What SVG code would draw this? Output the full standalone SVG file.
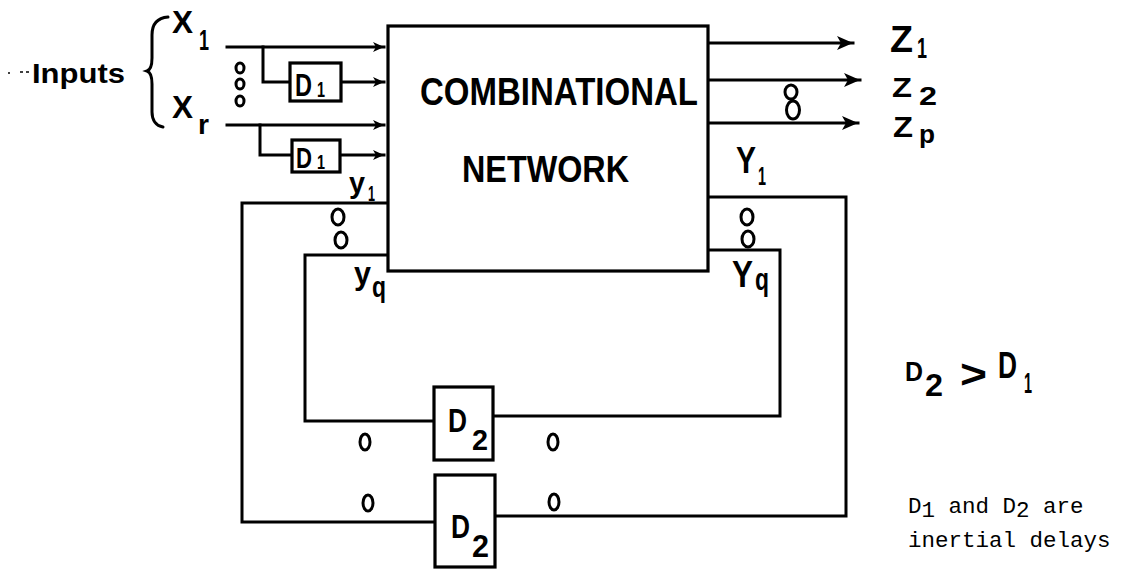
<svg xmlns="http://www.w3.org/2000/svg" width="1123" height="569" viewBox="0 0 1123 569">
<style>
.ln{fill:none;stroke:#000;stroke-width:3;stroke-linejoin:miter;stroke-linecap:square}
.bx{fill:#fff;stroke:#000;stroke-width:3.2}
.el{fill:none;stroke:#000;stroke-width:3}
.t{font-family:"Liberation Sans",Arial,sans-serif;font-weight:bold;fill:#000}
.tw{font-family:"Liberation Mono","Courier New",monospace;font-size:22.5px;fill:#000}
</style>
<defs>
<marker id="aBig" markerUnits="userSpaceOnUse" markerWidth="18" markerHeight="14" refX="16" refY="7" orient="auto">
<path d="M0,0 L16,7 L0,14 L4,7 z" fill="#000"/>
</marker>
<marker id="aSm" markerUnits="userSpaceOnUse" markerWidth="12" markerHeight="10" refX="11" refY="5" orient="auto">
<path d="M0,0 L11,5 L0,10 L3,5 z" fill="#000"/>
</marker>
</defs>
<rect width="1123" height="569" fill="#fff"/>

<g id="connectors">
<path class="ln" d="M227,47 L384,47" marker-end="url(#aSm)"/>
<path class="ln" d="M263,47 L263,82 L290,82"/>
<path class="ln" d="M341,82 L384,82" marker-end="url(#aSm)"/>
<path class="ln" d="M227,125 L384,125" marker-end="url(#aSm)"/>
<path class="ln" d="M260,125 L260,155 L292,155"/>
<path class="ln" d="M340,155 L384,155" marker-end="url(#aSm)"/>
<path class="ln" d="M708,43 L853,43" marker-end="url(#aBig)"/>
<path class="ln" d="M708,80 L860,80" marker-end="url(#aBig)"/>
<path class="ln" d="M708,123 L858,123" marker-end="url(#aBig)"/>
<path class="ln" d="M388,203 L242,203 L242,522 L436,522"/>
<path class="ln" d="M388,255 L305,255 L305,421 L434,421"/>
<path class="ln" d="M708,197 L846,197 L846,516 L495,516"/>
<path class="ln" d="M708,250 L780,250 L780,416 L493,416"/>
<path d="M20,72 L32,72" stroke="#000" stroke-width="1.5" stroke-dasharray="3 3"/>
<circle cx="9" cy="73" r="1" fill="#000"/>
</g>

<g id="inputs-label">
<text class="t" x="32" y="83" font-size="28" textLength="93" lengthAdjust="spacingAndGlyphs">Inputs</text>
<path class="ln" style="stroke-linecap:round" d="M168,17 C156,18 152,25 152,35 L152,58 C152,66 150,70 147,71 C150,72 152,76 152,84 L152,112 C152,120 156,126 163,127"/>
<text class="t" x="172" y="33" font-size="32" textLength="21" lengthAdjust="spacingAndGlyphs">X</text>
<text class="t" x="199" y="50" font-size="30" textLength="10" lengthAdjust="spacingAndGlyphs">1</text>
<text class="t" x="172" y="118" font-size="32" textLength="21" lengthAdjust="spacingAndGlyphs">X</text>
<text class="t" x="198" y="134" font-size="28" textLength="11" lengthAdjust="spacingAndGlyphs">r</text>
<ellipse class="el" cx="240" cy="68" rx="4" ry="5"/>
<ellipse class="el" cx="240" cy="84" rx="4" ry="5"/>
<ellipse class="el" cx="240" cy="101" rx="4" ry="5"/>
</g>

<g id="d1-top">
<rect class="bx" x="290" y="63" width="51" height="38"/>
<text class="t" x="295" y="96" font-size="32" textLength="17" lengthAdjust="spacingAndGlyphs">D</text>
<text class="t" x="317" y="97" font-size="22" textLength="8" lengthAdjust="spacingAndGlyphs">1</text>
</g>

<g id="d1-bottom">
<rect class="bx" x="292" y="140" width="48" height="32"/>
<text class="t" x="296" y="168" font-size="30" textLength="16" lengthAdjust="spacingAndGlyphs">D</text>
<text class="t" x="317" y="169" font-size="20" textLength="8" lengthAdjust="spacingAndGlyphs">1</text>
</g>

<g id="combinational-network">
<rect class="bx" x="388" y="26" width="320" height="245"/>
<text class="t" x="420" y="105" font-size="38" textLength="278" lengthAdjust="spacingAndGlyphs">COMBINATIONAL</text>
<text class="t" x="462" y="182" font-size="37" textLength="167" lengthAdjust="spacingAndGlyphs">NETWORK</text>
</g>

<g id="outputs">
<text class="t" x="890" y="52" font-size="36" textLength="23" lengthAdjust="spacingAndGlyphs">Z</text>
<text class="t" x="917" y="58" font-size="30" textLength="10" lengthAdjust="spacingAndGlyphs">1</text>
<text class="t" x="892" y="97" font-size="28" textLength="20" lengthAdjust="spacingAndGlyphs">Z</text>
<text class="t" x="919" y="105" font-size="26" textLength="18" lengthAdjust="spacingAndGlyphs">2</text>
<text class="t" x="893" y="137" font-size="30" textLength="20" lengthAdjust="spacingAndGlyphs">Z</text>
<text class="t" x="919" y="143" font-size="26" textLength="16" lengthAdjust="spacingAndGlyphs">p</text>
<ellipse class="el" cx="791" cy="92" rx="6" ry="7"/>
<ellipse class="el" cx="793" cy="110" rx="6.5" ry="9"/>
</g>

<g id="state-labels">
<text class="t" x="349" y="193" font-size="30" textLength="16" lengthAdjust="spacingAndGlyphs">y</text>
<text class="t" x="368" y="201" font-size="22" textLength="7" lengthAdjust="spacingAndGlyphs">1</text>
<ellipse class="el" cx="338" cy="217" rx="6" ry="8"/>
<ellipse class="el" cx="341" cy="240" rx="6" ry="8"/>
<text class="t" x="354" y="284" font-size="32" textLength="17" lengthAdjust="spacingAndGlyphs">y</text>
<text class="t" x="372" y="297" font-size="30" textLength="14" lengthAdjust="spacingAndGlyphs">q</text>
<text class="t" x="736" y="173" font-size="36" textLength="20" lengthAdjust="spacingAndGlyphs">Y</text>
<text class="t" x="758" y="185" font-size="26" textLength="8" lengthAdjust="spacingAndGlyphs">1</text>
<ellipse class="el" cx="747" cy="217" rx="6" ry="8"/>
<ellipse class="el" cx="748" cy="239" rx="6" ry="8"/>
<text class="t" x="732" y="287" font-size="36" textLength="21" lengthAdjust="spacingAndGlyphs">Y</text>
<text class="t" x="755" y="290" font-size="32" textLength="14" lengthAdjust="spacingAndGlyphs">q</text>
<ellipse class="el" cx="365" cy="442" rx="5" ry="8"/>
<ellipse class="el" cx="553" cy="442" rx="5" ry="8"/>
<ellipse class="el" cx="368" cy="503" rx="5" ry="8"/>
<ellipse class="el" cx="554" cy="502" rx="5" ry="8"/>
</g>

<g id="d2-upper">
<rect class="bx" x="434" y="387" width="59" height="73"/>
<text class="t" x="448" y="432" font-size="33" textLength="19" lengthAdjust="spacingAndGlyphs">D</text>
<text class="t" x="472" y="450" font-size="30" textLength="16" lengthAdjust="spacingAndGlyphs">2</text>
</g>

<g id="d2-lower">
<rect class="bx" x="435" y="475" width="60" height="92"/>
<text class="t" x="451" y="538" font-size="34" textLength="19" lengthAdjust="spacingAndGlyphs">D</text>
<text class="t" x="472" y="557" font-size="32" textLength="17" lengthAdjust="spacingAndGlyphs">2</text>
</g>

<g id="relation">
<text class="t" x="905" y="381" font-size="28" textLength="18" lengthAdjust="spacingAndGlyphs">D</text>
<text class="t" x="925" y="396" font-size="32" textLength="18" lengthAdjust="spacingAndGlyphs">2</text>
<text class="t" x="960" y="388" font-size="40" textLength="27" lengthAdjust="spacingAndGlyphs">&gt;</text>
<text class="t" x="998" y="378" font-size="36" textLength="19" lengthAdjust="spacingAndGlyphs">D</text>
<text class="t" x="1024" y="393" font-size="30" textLength="8" lengthAdjust="spacingAndGlyphs">1</text>
</g>

<g id="note">
<text class="tw" x="908" y="513">D<tspan dy="4">1</tspan><tspan dy="-4"> and D</tspan><tspan dy="4">2</tspan><tspan dy="-4"> are</tspan></text>
<text class="tw" x="908" y="547">inertial delays</text>
</g>
</svg>
